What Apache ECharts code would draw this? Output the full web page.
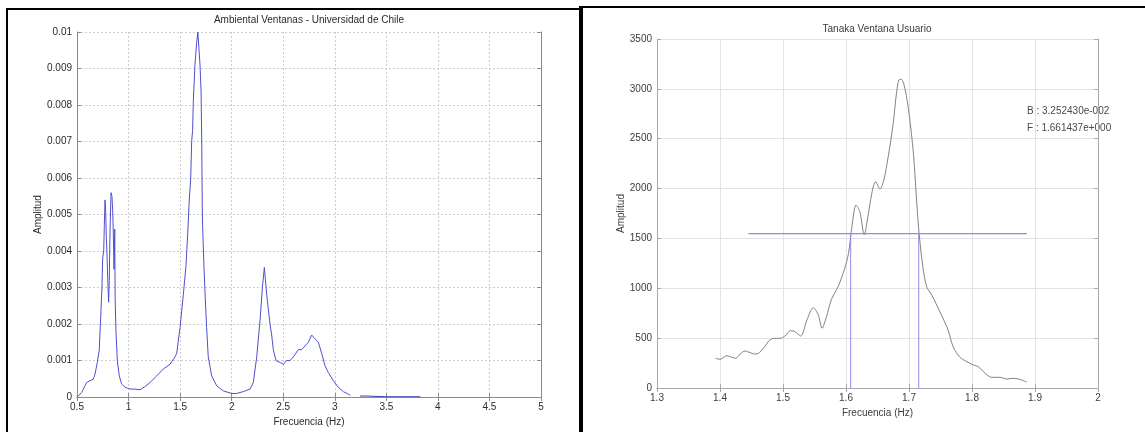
<!DOCTYPE html>
<html>
<head>
<meta charset="utf-8">
<title>Ventanas – espectros</title>
<script src="https://cdn.jsdelivr.net/npm/echarts@6/dist/echarts.min.js"></script>
<style>
  html, body { margin: 0; padding: 0; background: #fff; }
  #chart { width: 1145px; height: 432px; }
</style>
</head>
<body>
<div id="chart"></div>
<script>
// ---- Ambiental Ventanas spectrum (left panel) ----
const ambFreq = [
  0.503, 0.546, 0.578, 0.594, 0.626, 0.658, 0.675, 0.697, 0.716, 0.730,
  0.742, 0.749, 0.759, 0.765, 0.772, 0.778, 0.784, 0.791, 0.797, 0.807,
  0.813, 0.820, 0.830, 0.839, 0.846, 0.852, 0.859, 0.866, 0.870, 0.878,
  0.891, 0.910, 0.933, 0.966, 1.014, 1.063, 1.111, 1.160, 1.208, 1.273,
  1.337, 1.402, 1.450, 1.467, 1.499, 1.531, 1.557, 1.574, 1.589, 1.603,
  1.612, 1.621, 1.628, 1.644, 1.660, 1.672, 1.683, 1.693, 1.703, 1.709,
  1.715, 1.718, 1.731, 1.741, 1.757, 1.773, 1.806, 1.855, 1.919, 2.000,
  2.049, 2.113, 2.178, 2.210, 2.243, 2.275, 2.298, 2.317, 2.327, 2.340,
  2.356, 2.372, 2.388, 2.404, 2.430, 2.469, 2.501, 2.533, 2.566, 2.598,
  2.646, 2.679, 2.711, 2.743, 2.776, 2.792, 2.808, 2.841, 2.873, 2.905,
  2.938, 2.986, 3.034, 3.083, 3.131, 3.150
];
const ambAmp = [
  0.00000, 0.00013, 0.00031, 0.00040, 0.00045, 0.00049, 0.00063, 0.00095, 0.00130, 0.00220,
  0.00300, 0.00380, 0.00400, 0.00470, 0.00540, 0.00510, 0.00440, 0.00390, 0.00330, 0.00260,
  0.00320, 0.00450, 0.00560, 0.00550, 0.00510, 0.00450, 0.00350, 0.00460, 0.00270, 0.00180,
  0.00100, 0.00058, 0.00036, 0.00027, 0.00022, 0.00022, 0.00020, 0.00029, 0.00040, 0.00058,
  0.00077, 0.00090, 0.00110, 0.00120, 0.00190, 0.00280, 0.00360, 0.00450, 0.00540, 0.00600,
  0.00700, 0.00730, 0.00810, 0.00910, 0.00970, 0.01000, 0.01000, 0.00910, 0.00840, 0.00720,
  0.00520, 0.00470, 0.00360, 0.00290, 0.00190, 0.00110, 0.00058, 0.00031, 0.00017, 0.00010,
  0.00010, 0.00015, 0.00022, 0.00040, 0.00110, 0.00210, 0.00300, 0.00355, 0.00350, 0.00280,
  0.00240, 0.00200, 0.00170, 0.00130, 0.00100, 0.00095, 0.00090, 0.00100, 0.00100, 0.00110,
  0.00130, 0.00130, 0.00140, 0.00150, 0.00170, 0.00170, 0.00160, 0.00150, 0.00120, 0.00086,
  0.00067, 0.00045, 0.00027, 0.00015, 0.00008, 0.00005
];
// high-frequency tail, drawn as a separate segment
const ambTailFreq = [3.245, 3.30, 3.40, 3.50, 3.60, 3.70, 3.83];
const ambTailAmp  = [0.00003, 0.00003, 0.00002, 0.00001, 0.00001, 0.00001, 0.00001];

// ---- Tanaka Ventana Usuario (right panel) ----
const tanFreq = [
  1.393, 1.400, 1.411, 1.416, 1.425, 1.432, 1.440, 1.448, 1.456, 1.461,
  1.469, 1.479, 1.487, 1.495, 1.503, 1.512, 1.519, 1.528, 1.538, 1.548,
  1.556, 1.562, 1.569, 1.577, 1.588, 1.598, 1.604, 1.609, 1.616, 1.622,
  1.629, 1.634, 1.641, 1.647, 1.654, 1.660, 1.667, 1.675, 1.680, 1.684,
  1.688, 1.694, 1.700, 1.707, 1.712, 1.716, 1.722, 1.728, 1.736, 1.749,
  1.762, 1.770, 1.781, 1.792, 1.802, 1.810, 1.821, 1.831, 1.844, 1.855,
  1.865, 1.874, 1.882, 1.887
];
const tanAmp = [
  298, 288, 324, 314, 298, 341, 371, 354, 341, 348,
  398, 481, 498, 498, 521, 575, 565, 521, 682, 805,
  732, 599, 715, 890, 1023, 1201, 1351, 1600, 1835, 1768,
  1535, 1685, 1953, 2069, 1996, 2086, 2320, 2655, 2950, 3090,
  3095, 2989, 2755, 2354, 1886, 1552, 1217, 1016, 933, 765,
  582, 414, 308, 264, 231, 214, 147, 107, 107, 90,
  97, 90, 73, 60
];

// half-power estimate: damping B and frequency F
const dampingB = 3.252430e-002;
const freqF = 1.661437e+000;
const halfPowerLevel = 1548;
const halfPowerSpan = [1.445, 1.887];
const bandEdges = [freqF * (1 - dampingB), freqF * (1 + dampingB)];

const leftXTicks = { min: 0.5, max: 5, interval: 0.5 };
const leftYTicks = { min: 0, max: 0.01, interval: 0.001 };
const rightXTicks = { min: 1.3, max: 2, interval: 0.1 };
const rightYTicks = { min: 0, max: 3500, interval: 500 };

const pairs = (xs, ys) => xs.map((x, i) => [x, ys[i]]);

const FONT = '"Liberation Sans", Arial, sans-serif';
const labelStyle = (color) => ({ fontSize: 10, fontFamily: FONT, color });
// plain numbers, no thousands separators
const plain = (v) => String(+v.toPrecision(6));

function mainX(grid, ticks, boxColor, splitStyle, labelColor) {
  return {
    gridIndex: grid, type: 'value', min: ticks.min, max: ticks.max, interval: ticks.interval,
    axisLine: { show: true, lineStyle: { color: boxColor, width: 1 } },
    axisTick: { show: true, inside: true, length: 4, lineStyle: { color: boxColor } },
    axisLabel: Object.assign({ margin: 5, formatter: plain }, labelStyle(labelColor)),
    splitLine: { show: true, lineStyle: splitStyle },
    name: 'Frecuencia (Hz)', nameLocation: 'middle', nameGap: 18,
    nameTextStyle: labelStyle(labelColor)
  };
}
function mainY(grid, ticks, boxColor, splitStyle, labelColor, gap) {
  return {
    gridIndex: grid, type: 'value', min: ticks.min, max: ticks.max, interval: ticks.interval,
    axisLine: { show: true, lineStyle: { color: boxColor, width: 1 } },
    axisTick: { show: true, inside: true, length: 4, lineStyle: { color: boxColor } },
    axisLabel: Object.assign({ margin: 5, formatter: plain }, labelStyle(labelColor)),
    splitLine: { show: true, lineStyle: splitStyle },
    name: 'Amplitud', nameLocation: 'middle', nameGap: gap,
    nameTextStyle: labelStyle(labelColor)
  };
}
function mirror(axis, position) {
  return {
    gridIndex: axis.gridIndex, type: 'value', position,
    min: axis.min, max: axis.max, interval: axis.interval,
    axisLine: axis.axisLine, axisTick: axis.axisTick,
    axisLabel: { show: false }, splitLine: { show: false }
  };
}

const leftSplit = { color: '#cdcdcd', type: [2, 2], width: 1 };
const rightSplit = { color: '#e2e2e2', type: 'solid', width: 1 };

const xL = mainX(0, leftXTicks, '#8a8a8a', leftSplit, '#2a2a2a');
const yL = mainY(0, leftYTicks, '#8a8a8a', leftSplit, '#2a2a2a', 33);
const xR = mainX(1, rightXTicks, '#a8a8a8', rightSplit, '#3c3c3c');
const yR = mainY(1, rightYTicks, '#a8a8a8', rightSplit, '#3c3c3c', 30);

const markerColor = '#8c8ce6';

const chart = echarts.init(document.getElementById('chart'), null, { renderer: 'canvas' });

chart.setOption({
  animation: false,
  backgroundColor: '#ffffff',
  grid: [
    { left: 77, top: 32, width: 464, height: 366, show: false },
    { left: 657, top: 39, width: 441, height: 349, show: false }
  ],
  xAxis: [xL, mirror(xL, 'top'), xR, mirror(xR, 'top')],
  yAxis: [yL, mirror(yL, 'right'), yR, mirror(yR, 'right')],
  series: [
    {
      type: 'line', xAxisIndex: 0, yAxisIndex: 0, showSymbol: false,
      data: pairs(ambFreq, ambAmp),
      itemStyle: { color: '#4f4fd0' },
      lineStyle: { color: '#4f4fd0', width: 1 }
    },
    {
      type: 'line', xAxisIndex: 0, yAxisIndex: 0, showSymbol: false,
      data: pairs(ambTailFreq, ambTailAmp),
      itemStyle: { color: '#3a3ab8' },
      lineStyle: { color: '#3a3ab8', width: 1 }
    },
    {
      type: 'line', xAxisIndex: 2, yAxisIndex: 2, showSymbol: false, z: 3,
      data: [[halfPowerSpan[0], halfPowerLevel], [halfPowerSpan[1], halfPowerLevel]],
      itemStyle: { color: markerColor },
      lineStyle: { color: markerColor, width: 1.2 }
    },
    {
      type: 'line', xAxisIndex: 2, yAxisIndex: 2, showSymbol: false, z: 3,
      data: [[bandEdges[0], halfPowerLevel], [bandEdges[0], 0]],
      itemStyle: { color: markerColor },
      lineStyle: { color: markerColor, width: 1 }
    },
    {
      type: 'line', xAxisIndex: 2, yAxisIndex: 2, showSymbol: false, z: 3,
      data: [[bandEdges[1], halfPowerLevel], [bandEdges[1], 0]],
      itemStyle: { color: markerColor },
      lineStyle: { color: markerColor, width: 1 }
    },
    {
      type: 'line', xAxisIndex: 2, yAxisIndex: 2, showSymbol: false, smooth: 0.3, z: 2,
      data: pairs(tanFreq, tanAmp),
      itemStyle: { color: '#828282' },
      lineStyle: { color: '#828282', width: 1 }
    }
  ],
  graphic: [
    // panel titles
    { type: 'text', style: { text: 'Ambiental Ventanas - Universidad de Chile', x: 309, y: 20,
        align: 'center', verticalAlign: 'middle', font: '10px ' + FONT, fill: '#2a2a2a' } },
    { type: 'text', style: { text: 'Tanaka Ventana Usuario', x: 877, y: 29,
        align: 'center', verticalAlign: 'middle', font: '10px ' + FONT, fill: '#3c3c3c' } },
    // readout of the half-power estimate
    { type: 'text', style: { text: 'B : ' + dampingB.toExponential(6).replace('e-2', 'e-002'),
        x: 1027, y: 111, verticalAlign: 'middle', font: '10px ' + FONT, fill: '#4a4a4a' } },
    { type: 'text', style: { text: 'F : ' + freqF.toExponential(6).replace('e+0', 'e+000'),
        x: 1027, y: 128, verticalAlign: 'middle', font: '10px ' + FONT, fill: '#4a4a4a' } },
    // black panel frames
    { type: 'line', shape: { x1: 6, y1: 9, x2: 580, y2: 9 }, style: { stroke: '#000', lineWidth: 2 } },
    { type: 'line', shape: { x1: 7, y1: 8, x2: 7, y2: 432 }, style: { stroke: '#000', lineWidth: 2 } },
    { type: 'line', shape: { x1: 580, y1: 7, x2: 1145, y2: 7 }, style: { stroke: '#000', lineWidth: 2 } },
    { type: 'line', shape: { x1: 581, y1: 6, x2: 581, y2: 432 }, style: { stroke: '#000', lineWidth: 4 } }
  ]
});
</script>
</body>
</html>
